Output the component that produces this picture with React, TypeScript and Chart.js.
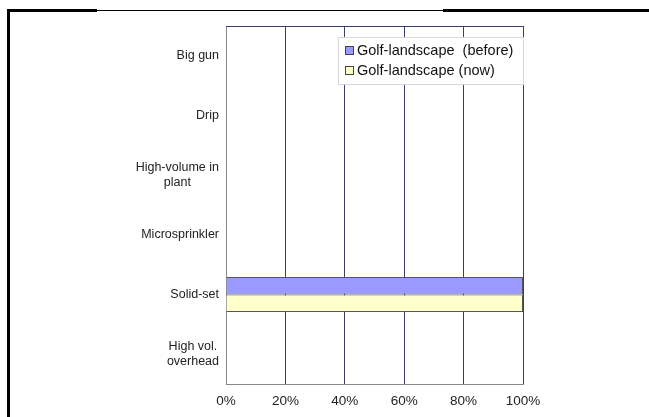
import React, { useEffect, useRef } from "react";
import { Chart, registerables } from "chart.js";

Chart.register(...registerables);

const categories: (string | string[])[] = [
  "Big gun",
  "Drip",
  ["High-volume in", "plant"],
  "Microsprinkler",
  "Solid-set",
  ["High vol.", "overhead"],
];
const seriesNames = ["Golf-landscape  (before)", "Golf-landscape (now)"];
const beforeValues = [0, 0, 0, 0, 100, 0];
const nowValues = [0, 0, 0, 0, 100, 0];
const xTickValues = [0, 20, 40, 60, 80, 100];
const xTickLabels = ["0%", "20%", "40%", "60%", "80%", "100%"];

const FONT = "'Liberation Sans', Arial, sans-serif";
const colors = ["#9999ff", "#ffffcc"];

const decorPlugin = {
  id: "decor",
  afterDraw(chart: any) {
    const ctx = chart.ctx as CanvasRenderingContext2D;
    const { chartArea } = chart;
    const x = chart.scales.x;
    const y = chart.scales.y;
    ctx.save();
    // top plot border
    ctx.strokeStyle = "#3c3c6e";
    ctx.lineWidth = 1;
    ctx.beginPath();
    ctx.moveTo(chartArea.left, chartArea.top + 0.5);
    ctx.lineTo(chartArea.right, chartArea.top + 0.5);
    ctx.stroke();

    // y labels
    ctx.fillStyle = "#222";
    ctx.font = `12.5px ${FONT}`;
    ctx.textAlign = "center";
    ctx.textBaseline = "middle";
    categories.forEach((c, i) => {
      const lines = Array.isArray(c) ? c : [c];
      const cy = y.getPixelForValue(i);
      const widths = lines.map((l) => ctx.measureText(l).width);
      const w = Math.max(...widths);
      const cx = chartArea.left - 7 - w / 2;
      const lh = 15;
      lines.forEach((l, j) => {
        ctx.fillText(l, cx, cy + (j - (lines.length - 1) / 2) * lh);
      });
    });

    // x labels
    ctx.font = `13.5px ${FONT}`;
    ctx.textAlign = "center";
    xTickValues.forEach((v, i) => {
      ctx.fillText(xTickLabels[i], x.getPixelForValue(v), chartArea.bottom + 17);
    });

    // legend
    const lx = 338, ly = 37, lw = 186, lh = 48;
    ctx.fillStyle = "#ffffff";
    ctx.fillRect(lx, ly, lw, lh);
    ctx.strokeStyle = "#d8d8d8";
    ctx.strokeRect(lx + 0.5, ly + 0.5, lw - 1, lh - 1);
    ctx.font = `14.5px ${FONT}`;
    ctx.textAlign = "left";
    seriesNames.forEach((n, i) => {
      const iy = ly + 13 + i * 20;
      ctx.fillStyle = colors[i];
      ctx.fillRect(345, iy - 4, 9, 9);
      ctx.strokeStyle = "#444";
      ctx.strokeRect(345.5, iy - 3.5, 8, 8);
      ctx.fillStyle = "#111";
      ctx.fillText(n, 357, iy + 1);
    });

    // frame
    ctx.fillStyle = "#000";
    ctx.fillRect(7, 9, 3, 408);
    ctx.fillRect(7, 9, 90, 3);
    ctx.fillRect(443, 9, 206, 3);
    ctx.fillRect(97, 10, 346, 1);
    ctx.restore();
  },
};

export default function App() {
  const ref = useRef<HTMLCanvasElement>(null);
  useEffect(() => {
    document.body.style.margin = "0";
    const chart = new Chart(ref.current!, {
      type: "bar",
      data: {
        labels: categories as any,
        datasets: [
          {
            label: seriesNames[0],
            data: beforeValues,
            backgroundColor: colors[0],
            borderColor: "#555",
            borderWidth: 1,
            categoryPercentage: 0.59,
            barPercentage: 1,
          },
          {
            label: seriesNames[1],
            data: nowValues,
            backgroundColor: colors[1],
            borderColor: "#555",
            borderWidth: 1,
            categoryPercentage: 0.59,
            barPercentage: 1,
          },
        ],
      },
      options: {
        indexAxis: "y",
        animation: false,
        responsive: false,
        maintainAspectRatio: false,
        layout: { padding: { left: 226, top: 26, right: 126, bottom: 33 } },
        plugins: { legend: { display: false }, tooltip: { enabled: false } },
        scales: {
          x: {
            min: 0,
            max: 100,
            ticks: { display: false, stepSize: 20 },
            grid: {
              drawTicks: false,
              color: (c: any) => (c.tick && c.tick.value === 0 ? "#888" : "#3c3c6e"),
            },
            border: { display: true, color: "#888" },
          },
          y: {
            ticks: { display: false },
            grid: { display: false, drawTicks: false },
            border: { display: true, color: "#888" },
          },
        },
      },
      plugins: [decorPlugin],
    });
    return () => chart.destroy();
  }, []);
  return (
    <div style={{ position: "relative", width: 649, height: 417, background: "#fff" }}>
      <canvas ref={ref} width={649} height={417} style={{ display: "block" }} />
    </div>
  );
}
